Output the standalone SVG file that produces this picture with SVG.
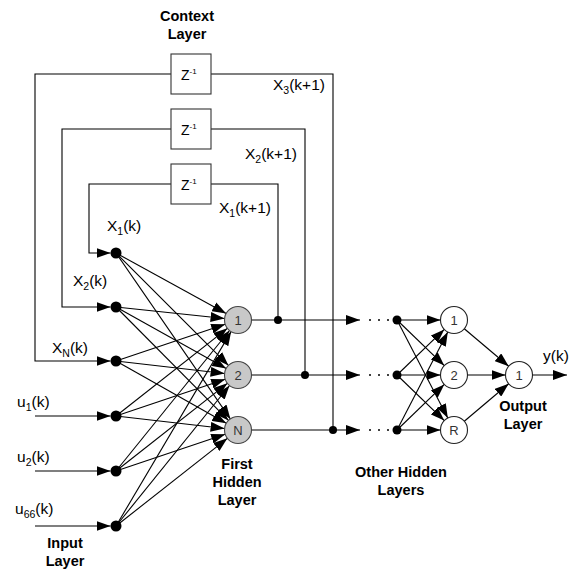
<svg xmlns="http://www.w3.org/2000/svg" width="570" height="573" viewBox="0 0 570 573">
<style>
.ln{fill:none;stroke:#000;stroke-width:1.1}
.ar{marker-end:url(#ah)}
.box{fill:#fff;stroke:#333;stroke-width:1.1}
.hid{fill:#c8c8c8;stroke:#444;stroke-width:1.1}
.wn{fill:#fff;stroke:#222;stroke-width:1.1}
.dot{fill:#000}
.t{font-family:"Liberation Sans",Arial,sans-serif;font-size:15.5px;fill:#000}
.b{font-family:"Liberation Sans",Arial,sans-serif;font-size:14.5px;font-weight:bold;fill:#000;text-anchor:middle}
.nl{font-family:"Liberation Sans",Arial,sans-serif;font-size:13px;fill:#333;text-anchor:middle}
.z{font-family:"Liberation Sans",Arial,sans-serif;font-size:14px;fill:#000}
</style>
<defs>
<marker id="ah" viewBox="0 0 14 10" refX="14" refY="5" markerWidth="14" markerHeight="10" markerUnits="userSpaceOnUse" orient="auto">
<path d="M0,0 L14,5 L0,10 z" fill="#000"/>
</marker>
</defs>
<rect width="570" height="573" fill="#fff"/>

<g id="connectors">
<path class="ln" d="M333,430 V74 H211"/>
<path class="ln ar" d="M171,74 H35 V361 H110.5"/>
<path class="ln" d="M305,375 V129 H211"/>
<path class="ln ar" d="M171,129 H62 V307 H110.5"/>
<path class="ln" d="M278,320 V184 H211"/>
<path class="ln ar" d="M171,184 H89 V253 H110.5"/>
<path class="ln ar" d="M35,416 H110.5"/>
<path class="ln ar" d="M35,471 H110.5"/>
<path class="ln ar" d="M35,526 H110.5"/>
<path class="ln ar" d="M116,253 L226.17,313.5"/>
<path class="ln ar" d="M116,307 L224.58,318.57"/>
<path class="ln ar" d="M116,361 L225.2,324.3"/>
<path class="ln ar" d="M116,416 L227.39,328.35"/>
<path class="ln ar" d="M116,471 L229.52,330.5"/>
<path class="ln ar" d="M116,526 L231.12,331.62"/>
<path class="ln ar" d="M116,253 L228.45,365.45"/>
<path class="ln ar" d="M116,307 L226.21,368.43"/>
<path class="ln ar" d="M116,361 L224.59,373.46"/>
<path class="ln ar" d="M116,416 L225.2,379.3"/>
<path class="ln ar" d="M116,471 L227.39,383.35"/>
<path class="ln ar" d="M116,526 L229.52,385.5"/>
<path class="ln ar" d="M116,253 L230.34,418.88"/>
<path class="ln ar" d="M116,307 L228.49,420.42"/>
<path class="ln ar" d="M116,361 L226.25,423.35"/>
<path class="ln ar" d="M116,416 L224.59,428.46"/>
<path class="ln ar" d="M116,471 L225.2,434.3"/>
<path class="ln ar" d="M116,526 L227.39,438.35"/>
<path class="ln ar" d="M251.5,320 H360"/>
<path class="ln ar" d="M251.5,375 H360"/>
<path class="ln ar" d="M251.5,430 H360"/>
<path class="ln ar" d="M397,320 L440.5,320"/>
<path class="ln ar" d="M397,320 L444.28,365.62"/>
<path class="ln ar" d="M397,320 L447.79,418.01"/>
<path class="ln ar" d="M397,375 L444.28,329.38"/>
<path class="ln ar" d="M397,375 L440.5,375"/>
<path class="ln ar" d="M397,375 L444.28,420.62"/>
<path class="ln ar" d="M397,430 L447.79,331.99"/>
<path class="ln ar" d="M397,430 L444.28,384.38"/>
<path class="ln ar" d="M397,430 L440.5,430"/>
<path class="ln ar" d="M464.31,328.72 L508.69,366.28"/>
<path class="ln ar" d="M467.5,375 L505.5,375"/>
<path class="ln ar" d="M464.31,421.28 L508.69,383.72"/>
<path class="ln ar" d="M532.5,375 H567"/>
<circle class="dot" cx="278" cy="320" r="4"/>
<circle class="dot" cx="305" cy="375" r="4"/>
<circle class="dot" cx="333" cy="430" r="4"/>
<circle class="dot" cx="370" cy="320" r="1"/><circle class="dot" cx="379" cy="320" r="1"/><circle class="dot" cx="388" cy="320" r="1"/>
<circle class="dot" cx="370" cy="375" r="1"/><circle class="dot" cx="379" cy="375" r="1"/><circle class="dot" cx="388" cy="375" r="1"/>
<circle class="dot" cx="370" cy="430" r="1"/><circle class="dot" cx="379" cy="430" r="1"/><circle class="dot" cx="388" cy="430" r="1"/>
</g>

<g id="context-layer">
<text class="b" x="187" y="21">Context</text>
<text class="b" x="187" y="39">Layer</text>
</g>
<g id="delay1"><rect class="box" x="171" y="54" width="40" height="40"/><text class="z" x="181" y="80">Z<tspan font-size="8" dy="-6">-1</tspan></text></g>
<g id="delay2"><rect class="box" x="171" y="109" width="40" height="40"/><text class="z" x="181" y="135">Z<tspan font-size="8" dy="-6">-1</tspan></text></g>
<g id="delay3"><rect class="box" x="171" y="164" width="40" height="40"/><text class="z" x="181" y="190">Z<tspan font-size="8" dy="-6">-1</tspan></text></g>

<g id="feedback-labels">
<text class="t" x="273" y="90">X<tspan font-size="10.5" dy="4">3</tspan><tspan dy="-4">(k+1)</tspan></text>
<text class="t" x="245" y="159">X<tspan font-size="10.5" dy="4">2</tspan><tspan dy="-4">(k+1)</tspan></text>
<text class="t" x="219" y="213">X<tspan font-size="10.5" dy="4">1</tspan><tspan dy="-4">(k+1)</tspan></text>
</g>

<g id="input-layer">
<circle class="dot" cx="116" cy="253" r="5.5"/>
<circle class="dot" cx="116" cy="307" r="5.5"/>
<circle class="dot" cx="116" cy="361" r="5.5"/>
<circle class="dot" cx="116" cy="416" r="5.5"/>
<circle class="dot" cx="116" cy="471" r="5.5"/>
<circle class="dot" cx="116" cy="526" r="5.5"/>
<text class="t" x="107" y="231">X<tspan font-size="10.5" dy="4">1</tspan><tspan dy="-4">(k)</tspan></text>
<text class="t" x="73" y="286">X<tspan font-size="10.5" dy="4">2</tspan><tspan dy="-4">(k)</tspan></text>
<text class="t" x="52" y="353">X<tspan font-size="10.5" dy="4">N</tspan><tspan dy="-4">(k)</tspan></text>
<text class="t" x="17" y="407">u<tspan font-size="10.5" dy="4">1</tspan><tspan dy="-4">(k)</tspan></text>
<text class="t" x="17" y="462">u<tspan font-size="10.5" dy="4">2</tspan><tspan dy="-4">(k)</tspan></text>
<text class="t" x="15" y="514">u<tspan font-size="10.5" dy="4">66</tspan><tspan dy="-4">(k)</tspan></text>
<text class="b" x="65" y="548">Input</text>
<text class="b" x="65" y="566">Layer</text>
</g>

<g id="hidden1"><circle class="hid" cx="238" cy="320" r="13.5"/><text class="nl" x="238" y="324.5">1</text></g>
<g id="hidden2"><circle class="hid" cx="238" cy="375" r="13.5"/><text class="nl" x="238" y="379.5">2</text></g>
<g id="hiddenN"><circle class="hid" cx="238" cy="430" r="13.5"/><text class="nl" x="238" y="434.5">N</text></g>
<g id="first-hidden-label">
<text class="b" x="237" y="469">First</text>
<text class="b" x="237" y="487">Hidden</text>
<text class="b" x="237" y="505">Layer</text>
</g>

<g id="other-hidden">
<circle class="dot" cx="397" cy="320" r="4.5"/>
<circle class="dot" cx="397" cy="375" r="4.5"/>
<circle class="dot" cx="397" cy="430" r="4.5"/>
</g>
<g id="other1"><circle class="wn" cx="454" cy="320" r="13.5"/><text class="nl" x="454" y="324.5">1</text></g>
<g id="other2"><circle class="wn" cx="454" cy="375" r="13.5"/><text class="nl" x="454" y="379.5">2</text></g>
<g id="otherR"><circle class="wn" cx="454" cy="430" r="13.5"/><text class="nl" x="454" y="434.5">R</text></g>
<g id="other-hidden-label">
<text class="b" x="401" y="477">Other Hidden</text>
<text class="b" x="401" y="495">Layers</text>
</g>

<g id="output"><circle class="wn" cx="519" cy="375" r="13.5"/><text class="nl" x="519" y="379.5">1</text></g>
<g id="output-label">
<text class="b" x="523" y="411">Output</text>
<text class="b" x="523" y="429">Layer</text>
<text class="t" x="543" y="361" font-size="15">y(k)</text>
</g>
</svg>
